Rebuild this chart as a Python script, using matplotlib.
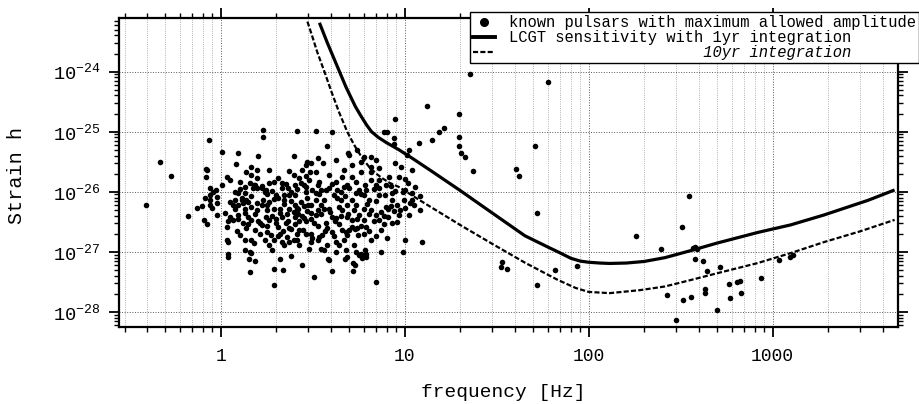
import matplotlib
matplotlib.use("Agg")
import matplotlib.pyplot as plt
from matplotlib.lines import Line2D
from matplotlib.ticker import LogLocator, FixedLocator, NullFormatter

plt.rcParams['font.family'] = ['Liberation Mono', 'DejaVu Sans Mono']
plt.rcParams['mathtext.fontset'] = 'custom'
plt.rcParams['mathtext.rm'] = 'Liberation Mono'
plt.rcParams['mathtext.it'] = 'Liberation Mono:italic'
plt.rcParams['mathtext.bf'] = 'Liberation Mono:bold'

# ---------------- data ----------------
# LCGT sensitivity, 1 yr integration (frequency [Hz], strain)
sens1_freq = [3.44, 3.8, 4.2, 4.8, 5.4, 5.8, 6.2, 6.6, 7.2, 8.0, 9.3, 11.0, 14.0, 20.0,
              30.0, 45.0, 60.0, 68.0, 80.0, 90.0, 100.0, 115.0, 130.0, 160.0, 200.0,
              260.0, 360.0, 500.0, 830.0, 1250.0, 1900.0, 3300.0, 4600.0]
sens1_h = [6.5e-24, 3.0e-24, 1.45e-24, 5.5e-25, 2.6e-25, 1.8e-25, 1.3e-25, 1.0e-25,
           8.0e-26, 6.5e-26, 5.0e-26, 3.6e-26, 2.2e-26, 1.05e-26, 4.4e-27, 1.85e-27,
           1.2e-27, 1.0e-27, 7.8e-28, 7.0e-28, 6.7e-28, 6.5e-28, 6.4e-28, 6.5e-28,
           6.9e-28, 8.0e-28, 1.05e-27, 1.4e-27, 2.1e-27, 2.8e-27, 4.1e-27, 7.2e-27,
           1.07e-26]
# 10 yr integration
sens10_freq = [2.96, 3.15, 3.35, 3.66, 4.0, 4.4, 4.87, 5.2, 5.5, 5.9, 6.4, 7.0, 7.5, 8.3,
               9.3, 12.0, 20.0, 30.0, 45.0, 68.0, 85.0, 100.0, 130.0, 190.0, 260.0,
               360.0, 500.0, 830.0, 1250.0, 1900.0, 3000.0, 4600.0]
sens10_h = [6.8e-24, 3.8e-24, 2.1e-24, 1.0e-24, 4.6e-25, 2.1e-25, 1.0e-25, 6.8e-26,
            5.0e-26, 3.6e-26, 2.6e-26, 2.0e-26, 1.7e-26, 1.4e-26, 1.2e-26, 7.3e-27,
            2.8e-27, 1.35e-27, 6.6e-28, 3.4e-28, 2.5e-28, 2.15e-28, 2.05e-28, 2.3e-28,
            2.65e-28, 3.4e-28, 4.4e-28, 6.5e-28, 9.5e-28, 1.45e-27, 2.2e-27, 3.4e-27]

# known pulsars (frequency [Hz], maximum allowed amplitude)
pulsars_sparse = [
    (0.393, 6.0e-27), (0.468, 3.1e-26), (0.537, 1.8e-26), (0.66, 3.9e-27), (0.74, 5.3e-27),
    (0.79, 5.7e-27), (0.87, 6.0e-27), (0.81, 3.4e-27), (0.84, 2.9e-27), (0.86, 7.3e-26),
    (1.02, 4.6e-26), (0.83, 2.4e-26), (0.83, 1.75e-26), (1.08, 1.75e-26), (1.13, 1.57e-26),
    (1.02, 1.3e-26), (0.87, 1.15e-26), (0.91, 9.9e-27), (0.94, 1.07e-26), (0.82, 7.9e-27),
    (0.88, 7.3e-27), (0.95, 8.1e-27), (1.12, 6.7e-27), (0.90, 5.3e-27), (0.96, 4.1e-27),
    (1.09, 3.2e-27), (1.08, 2.6e-27), (1.13, 3.8e-27), (1.08, 1.6e-27), (1.09, 9.2e-28),
    (1.10, 8.3e-28), (1.24, 4.4e-26), (1.59, 3.9e-26), (1.69, 1.07e-25), (1.69, 8.1e-26),
    (2.61, 1.03e-25), (3.31, 1.03e-25), (4.04, 1.0e-25), (3.79, 5.8e-26), (1.21, 2.9e-26),
    (1.47, 2.6e-26), (1.57, 2.3e-26), (1.84, 2.3e-26), (1.38, 2.1e-26), (2.36, 2.2e-26),
    (2.49, 1.9e-26), (3.07, 2.1e-26), (1.27, 1.45e-26), (1.44, 1.4e-26), (1.51, 1.3e-26),
    (2.06, 1.7e-26), (1.96, 1.45e-26), (2.14, 1.4e-26), (2.68, 1.7e-26), (2.74, 1.4e-26),
    (2.92, 1.2e-26), (1.57, 1.15e-26), (1.77, 1.07e-26), (2.33, 1.15e-26), (2.42, 9.9e-27),
    (1.19, 9.9e-27), (1.35, 9.6e-27), (3.38, 1.3e-26), (3.52, 1.07e-26), (2.52, 8.8e-27),
    (2.06, 7.9e-27), (1.38, 7.3e-27), (1.19, 7.3e-27), (1.82, 6.7e-27), (2.22, 7.3e-27),
    (2.74, 6.7e-27), (2.99, 6.0e-27), (1.57, 6.5e-27), (3.31, 7.3e-27), (2.49, 3.9e-26),
    (3.11, 3.0e-26), (3.38, 3.6e-26), (3.61, 3.0e-26), (2.95, 3.1e-26), (2.92, 2.8e-26),
    (4.24, 3.4e-26), (4.69, 2.3e-26), (4.99, 4.1e-26), (5.18, 2.8e-26), (5.52, 5.0e-26),
    (5.8, 3.1e-26), (6.0, 3.8e-26), (6.6, 3.8e-26), (6.98, 3.4e-26), (6.57, 2.6e-26),
    (7.26, 2.5e-26), (7.73, 1.0e-25), (8.0, 1.0e-25), (8.9, 1.6e-25), (8.75, 7.9e-26),
    (8.75, 6.3e-26), (10.5, 5.0e-26), (10.3, 4.1e-26), (8.9, 3.0e-26), (9.5, 2.6e-26),
    (10.9, 2.3e-26), (11.9, 6.4e-26), (4.93, 4.4e-26), (10.4, 1.4e-26), (11.4, 1.2e-26),
    (12.1, 8.4e-27), (10.7, 6.4e-27), (10.1, 1.6e-26), (9.8, 9.9e-27), (11.0, 7.3e-27),
    (11.3, 6.0e-27), (12.1, 5.0e-27), (13.3, 2.7e-25), (14.0, 7.3e-26), (15.3, 9.9e-26),
    (16.3, 1.15e-25), (19.7, 2.0e-25), (19.7, 8.1e-26), (19.7, 5.8e-26), (20.2, 4.4e-26),
    (21.2, 3.8e-26), (23.4, 2.2e-26), (22.6, 9.1e-25),
]

pulsars_high = [
    (60.2, 6.7e-25), (50.9, 5.8e-26), (40.1, 2.4e-26), (42.0, 1.8e-26), (351.0, 8.5e-27),
    (52.7, 4.4e-27), (33.6, 6.8e-28), (33.2, 5.5e-28), (35.8, 5.1e-28), (52.7, 2.8e-28),
    (65.9, 4.9e-28), (86.7, 5.8e-28), (181.0, 1.8e-27), (247.0, 1.1e-27), (321.0, 2.6e-27),
    (368.0, 1.15e-27), (378.0, 1.2e-27), (387.0, 1.1e-27), (378.0, 7.5e-28), (417.0, 6.9e-28),
    (439.0, 4.8e-28), (516.0, 5.5e-28), (267.0, 1.9e-28), (325.0, 1.58e-28), (359.0, 1.75e-28),
    (428.0, 2.4e-28), (428.0, 2.05e-28), (497.0, 1.07e-28), (298.0, 7.3e-29), (577.0, 2.9e-28),
    (638.0, 3.1e-28), (662.0, 3.3e-28), (584.0, 1.7e-28), (670.0, 2.1e-28), (860.0, 3.7e-28),
    (1077.0, 7.3e-28), (1250.0, 8.1e-28), (1282.0, 8.8e-28),
]

pulsars_dense = [
    (0.84, 2.3e-26), (1.47, 1.9e-26), (1.57, 1.7e-26), (1.84, 1.4e-26), (2.75, 2.3e-26),
    (2.92, 1.8e-26), (3.03, 1.57e-26), (3.31, 2.1e-26), (3.44, 1.45e-26), (3.89, 1.9e-26),
    (4.24, 1.45e-26), (4.57, 1.75e-26), (5.18, 1.75e-26), (5.8, 2.1e-26), (6.57, 2.1e-26),
    (7.26, 1.57e-26), (8.2, 1.75e-26), (9.3, 1.75e-26), (1.35, 1.2e-26), (0.87, 8.8e-27),
    (2.14, 1.15e-26), (3.15, 1.07e-26), (3.31, 9.6e-27), (3.75, 1.07e-26), (4.5, 9.9e-27),
    (4.99, 1.15e-26), (5.45, 9.6e-27), (6.17, 1.07e-26), (7.26, 1.15e-26), (8.5, 9.6e-27),
    (10.1, 1.07e-26), (10.9, 9.6e-27), (0.96, 6.4e-27), (1.05, 4.4e-27), (1.09, 1.45e-27),
    (1.16, 6.0e-27), (1.24, 9.6e-27), (1.30, 7.9e-27), (1.32, 6.5e-27), (1.40, 6.7e-27),
    (1.24, 4.1e-27), (1.35, 4.4e-27), (1.47, 5.6e-27), (1.57, 5.0e-27), (1.32, 3.0e-27),
    (1.38, 2.5e-27), (1.47, 3.4e-27), (1.63, 3.0e-27), (1.77, 3.8e-27), (1.84, 3.4e-27),
    (1.69, 7.3e-27), (1.79, 6.0e-27), (2.0, 8.8e-27), (1.67, 1.15e-26), (1.73, 9.9e-27),
    (1.49, 1.15e-26), (1.53, 1.3e-26), (2.09, 4.4e-27), (2.14, 3.8e-27), (2.27, 3.0e-27),
    (2.36, 2.5e-27), (2.0, 3.0e-27), (1.79, 2.1e-27), (1.88, 1.9e-27), (2.09, 2.0e-27),
    (2.3, 1.75e-27), (2.36, 1.45e-27), (2.61, 2.0e-27), (2.52, 3.8e-27), (2.52, 6.0e-27),
    (2.61, 5.3e-27), (2.36, 8.8e-27), (2.52, 1.3e-26), (2.92, 9.9e-27), (2.95, 7.9e-27),
    (3.11, 6.0e-27), (2.85, 3.6e-27), (2.92, 3.2e-27), (3.11, 4.4e-27), (3.38, 5.0e-27),
    (3.23, 3.0e-27), (3.75, 3.0e-27), (3.79, 2.5e-27), (3.11, 2.0e-27), (3.15, 1.67e-27),
    (3.57, 1.9e-27), (3.79, 1.3e-27), (4.04, 3.8e-27), (4.24, 3.6e-27), (4.41, 5.6e-27),
    (4.57, 5.0e-27), (4.14, 8.8e-27), (4.3, 7.9e-27), (4.88, 1.3e-26), (3.89, 1.15e-26),
    (5.18, 7.3e-27), (5.45, 6.0e-27), (4.88, 3.8e-27), (5.18, 2.6e-27), (4.81, 2.1e-27),
    (4.88, 1.9e-27), (5.66, 4.1e-27), (6.02, 3.4e-27), (6.02, 8.8e-27), (6.41, 7.3e-27),
    (7.26, 8.8e-27), (6.57, 5.0e-27), (7.0, 4.1e-27), (7.26, 3.4e-27), (7.9, 5.6e-27),
    (8.5, 7.3e-27), (7.45, 2.3e-27), (8.0, 1.67e-27), (9.1, 6.0e-27), (10.1, 5.3e-27),
    (9.3, 4.1e-27), (10.1, 1.57e-27), (7.0, 1.3e-26), (5.45, 1.45e-26), (5.66, 1.07e-26),
    (7.9, 1.3e-26), (6.57, 1.57e-26), (1.22, 2.2e-27), (1.35, 1.6e-27), (1.47, 1.57e-27),
    (1.51, 1.4e-27), (1.35, 1.07e-27), (1.44, 1.0e-27), (1.47, 9.6e-28), (1.42, 7.6e-28),
    (1.53, 6.9e-28), (1.44, 4.6e-28), (1.89, 1.07e-27), (2.09, 7.6e-28), (2.42, 8.5e-28),
    (1.96, 5.1e-28), (2.19, 4.9e-28), (2.78, 6.0e-28), (1.94, 2.8e-28), (3.23, 3.8e-28),
    (1.67, 2.8e-27), (1.96, 1.57e-27), (2.14, 1.45e-27), (2.22, 1.3e-27), (2.49, 1.6e-27),
    (2.06, 2.6e-27), (2.33, 3.2e-27), (2.42, 2.4e-27), (2.64, 5.1e-27), (2.64, 4.2e-27),
    (2.81, 2.3e-27), (3.11, 1.45e-27), (3.44, 1.75e-27), (3.52, 1.1e-27), (3.66, 1.07e-27),
    (3.03, 1.1e-27), (2.36, 5.1e-27), (2.49, 4.6e-27), (3.31, 4.1e-27), (3.66, 5.1e-27),
    (1.19, 5.1e-27), (1.94, 5.1e-27), (1.27, 1.9e-27), (1.16, 3.4e-27), (1.40, 3.8e-27),
    (3.89, 7.3e-28), (4.04, 4.7e-28), (4.24, 1.45e-27), (4.81, 1.07e-27), (4.88, 8.3e-28),
    (5.25, 6.4e-28), (5.25, 4.7e-28), (5.66, 8.8e-28), (5.87, 7.9e-28), (6.17, 8.1e-28),
    (6.98, 3.1e-28), (7.45, 1.0e-27), (4.57, 2.3e-27), (5.18, 3.4e-27), (5.52, 2.5e-27),
    (7.0, 1.8e-27), (8.5, 3.0e-27), (9.1, 3.1e-27), (10.5, 4.1e-27), (12.4, 1.45e-27),
    (4.04, 2.1e-27), (3.94, 4.6e-27), (4.93, 4.3e-27), (5.38, 2.4e-27), (5.59, 1.9e-27),
    (6.17, 2.6e-27), (7.45, 4.6e-27), (8.1, 3.8e-27), (8.1, 5.1e-27), (9.4, 5.0e-27),
    (3.84, 7.6e-28), (4.24, 1.0e-27), (4.75, 7.6e-28), (5.45, 1.0e-27), (5.8, 9.2e-28),
    (6.1, 1.07e-27), (6.17, 9.2e-28), (5.38, 6.0e-28), (9.8, 1.0e-27),
]

pulsars_core = [
    (1.67, 1.25e-26), (2.25, 1.35e-26), (2.85, 1.28e-26), (4.04, 1.32e-26), (4.69, 1.22e-26),
    (6.10, 1.3e-26), (8.40, 1.26e-26), (1.27, 1.1e-26), (1.89, 1.04e-26), (2.61, 1.09e-26),
    (4.30, 1.05e-26), (6.82, 1.1e-26), (8.84, 1.03e-26), (1.47, 8.6e-27), (1.79, 9.0e-27),
    (2.22, 8.7e-27), (3.44, 9.0e-27), (4.75, 8.5e-27), (5.80, 9.1e-27), (7.81, 8.7e-27),
    (1.30, 7.2e-27), (1.96, 7.5e-27), (2.42, 7.1e-27), (3.66, 7.4e-27), (4.52, 7.2e-27),
    (6.98, 7.0e-27), (9.91, 7.4e-27), (1.24, 6.1e-27), (1.67, 5.9e-27), (2.22, 6.2e-27),
    (2.85, 5.8e-27), (3.52, 6.1e-27), (4.88, 5.9e-27), (6.25, 6.2e-27), (8.40, 5.8e-27),
    (1.35, 5.1e-27), (1.79, 4.9e-27), (2.09, 5.2e-27), (2.95, 4.8e-27), (3.89, 5.1e-27),
    (5.32, 4.9e-27), (6.02, 5.2e-27), (8.75, 4.8e-27), (1.53, 4.2e-27), (1.91, 4.0e-27),
    (2.30, 4.2e-27), (2.78, 4.0e-27), (3.52, 4.2e-27), (4.52, 4.0e-27), (6.41, 4.2e-27),
    (7.73, 4.0e-27), (1.24, 3.5e-27), (1.59, 3.3e-27), (1.99, 3.5e-27), (2.68, 3.3e-27),
    (3.11, 3.5e-27), (4.19, 3.3e-27), (5.52, 3.5e-27), (6.82, 3.3e-27), (1.40, 2.9e-27),
    (1.79, 2.7e-27), (2.52, 2.9e-27), (3.38, 2.7e-27), (4.41, 2.9e-27), (5.80, 2.7e-27),
    (7.73, 2.9e-27), (1.53, 2.35e-27), (2.19, 2.25e-27), (2.68, 2.35e-27), (3.70, 2.25e-27),
    (4.99, 2.35e-27), (6.41, 2.25e-27), (1.63, 1.95e-27), (2.04, 1.85e-27), (2.89, 1.95e-27),
    (4.14, 1.85e-27), (6.02, 1.95e-27), (1.73, 1.6e-27), (2.61, 1.55e-27), (3.38, 1.6e-27),
    (4.69, 1.55e-27), (6.57, 1.6e-27), (1.84, 1.3e-27), (2.68, 1.28e-27), (4.41, 1.32e-27),
    (5.32, 1.28e-27),
]

x_tick_values = [1, 10, 100, 1000]
x_tick_labels = ["1", "10", "100", "1000"]
y_tick_values = [1e-28, 1e-27, 1e-26, 1e-25, 1e-24]
y_tick_labels = [r"$10^{-28}$", r"$10^{-27}$", r"$10^{-26}$", r"$10^{-25}$", r"$10^{-24}$"]

legend_labels = ["known pulsars with maximum allowed amplitude",
                 "LCGT sensitivity with 1yr integration",
                 " " * 21 + "10yr integration"]

# ---------------- figure ----------------
W, H = 920, 404
fig = plt.figure(figsize=(W / 100, H / 100), dpi=100)
ax = fig.add_axes([119 / W, 1 - 327 / H, (898 - 119) / W, (327 - 18) / H])

all_psr = pulsars_sparse + pulsars_dense + pulsars_core + pulsars_high
pf = [p[0] for p in all_psr]
ph = [p[1] for p in all_psr]
ax.scatter(pf, ph, s=16, color='black', linewidths=0, zorder=3)

ax.plot(sens1_freq, sens1_h, color='black', lw=2.3, zorder=4, solid_capstyle='butt',
        solid_joinstyle='round')
ax.plot(sens10_freq, sens10_h, color='black', lw=1.6, dashes=(2.3, 1.0), zorder=4,
        dash_capstyle='butt')

ax.set_xscale('log')
ax.set_yscale('log')
ax.set_xlim(0.28, 4800)
ax.set_ylim(5.6e-29, 7.8e-24)

ax.xaxis.set_major_locator(FixedLocator(x_tick_values))
ax.set_xticklabels(x_tick_labels)
ax.xaxis.set_minor_locator(LogLocator(base=10, subs=range(2, 10), numticks=20))
ax.xaxis.set_minor_formatter(NullFormatter())
ax.yaxis.set_major_locator(FixedLocator(y_tick_values))
ax.set_yticklabels(y_tick_labels)
ax.yaxis.set_minor_locator(LogLocator(base=10, subs=range(2, 10), numticks=20))
ax.yaxis.set_minor_formatter(NullFormatter())

ax.tick_params(which='both', direction='out', top=True, right=True, width=1.3, color='black')
ax.tick_params(which='major', length=7.2)
ax.tick_params(which='minor', length=3.6, width=1.0)
ax.tick_params(axis='x', which='major', labelsize=13, pad=8)
ax.tick_params(axis='y', which='major', labelsize=13.5, pad=6)

for sp in ax.spines.values():
    sp.set_linewidth(1.6)

ax.grid(which='major', linestyle=':', color='0.35', linewidth=0.7)
ax.grid(which='minor', axis='x', linestyle=':', color='0.6', linewidth=0.6)
ax.set_axisbelow(True)

ax.set_xlabel("frequency [Hz]", fontsize=14, va='center')
ax.xaxis.set_label_coords(0.493, -0.213)
ax.set_ylabel("Strain h", fontsize=14.5, va='center')
ax.yaxis.set_label_coords(-0.132, 0.49)

handles = [
    Line2D([], [], marker='o', color='black', linestyle='none', markersize=5.5),
    Line2D([], [], color='black', lw=2.8),
    Line2D([], [], color='black', lw=1.6, dashes=(2.3, 1.0)),
]
leg = ax.legend(handles, legend_labels, loc='upper right',
                bbox_to_anchor=(919 / W, 1 - 12 / H), bbox_transform=fig.transFigure,
                prop={'family': 'Liberation Mono', 'size': 11.2}, frameon=True,
                fancybox=False, edgecolor='black', framealpha=1, borderpad=0.2,
                handlelength=1.4, handletextpad=0.9, labelspacing=0.0, borderaxespad=0)
leg.get_frame().set_linewidth(1.0)
leg.get_texts()[2].set_fontstyle('italic')
leg.set_zorder(10)

fig.savefig("out.png", dpi=100)
